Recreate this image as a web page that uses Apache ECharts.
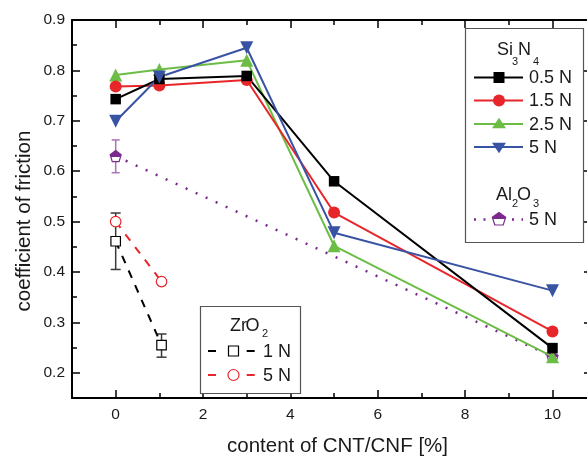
<!DOCTYPE html>
<html><head><meta charset="utf-8">
<script src="https://cdn.jsdelivr.net/npm/echarts@6/dist/echarts.min.js"></script>
<style>html,body{margin:0;padding:0;background:#fff}#c{width:587px;height:462px}</style>
</head><body><div id="c"></div>
<script>
// ---- data ----
const si3n4X = [0, 1, 3, 5, 10];
const si05 = [0.743, 0.783, 0.789, 0.580, 0.249];
const si15 = [0.768, 0.770, 0.781, 0.518, 0.282];
const si25 = [0.791, 0.802, 0.820, 0.452, 0.232];
const si50 = [0.699, 0.787, 0.845, 0.478, 0.363];
const al2o3X = [0, 10];
const al50 = [0.630, 0.232];
const al50Err = [[0, 0.597, 0.662]];
const zrX = [0, 1.05];
const zr1 = [0.461, 0.255];
const zr1Err = [[0, 0.405, 0.517], [1.05, 0.231, 0.277]];
const zr5 = [0.500, 0.381];
const xMajor = [0, 2, 4, 6, 8, 10];
const xMinor = [1, 3, 5, 7, 9];
const yMajor = [0.2, 0.3, 0.4, 0.5, 0.6, 0.7, 0.8, 0.9];
const yMinor = [0.25, 0.35, 0.45, 0.55, 0.65, 0.75, 0.85];
const yRightTicks = [0.2, 0.3, 0.4, 0.5, 0.6, 0.7, 0.8];

const C = {black:'#000000', red:'#e8262a', green:'#6cbd45', blue:'#3953a4', purple:'#7a2a8c', purpleLight:'#a873b8'};
const pentagon = 'path://M0,-1 L0.951,-0.309 L0.588,0.809 L-0.588,0.809 L-0.951,-0.309 Z';
const halfFill = {type:'linear', x:0, y:0, x2:0, y2:1, colorStops:[{offset:0,color:C.purple},{offset:0.55,color:C.purple},{offset:0.55,color:'#fff'},{offset:1,color:'#fff'}]};

const zip = (xs, ys) => xs.map((x, i) => [x, ys[i]]);
const FONT = '"Liberation Sans", Arial, Helvetica, sans-serif';
// visible x range: axis continues past the right edge of the picture
const X_MIN = -1, X_MAX = 10.79;

function axisX(pos, major) {
  return {type:'value', min:X_MIN, max:X_MAX, position:pos,
    axisLine:{show:major, onZero:false, lineStyle:{color:'#000', width:2}},
    axisTick:{show:true, inside:true, length:major?8:5, customValues:major?xMajor:xMinor, lineStyle:{color:'#000', width:1.5}},
    axisLabel:{show:major && pos==='bottom', customValues:xMajor, fontSize:15.5, margin:9, color:'#1a1a1a', fontFamily:FONT},
    splitLine:{show:false},
    name:(major && pos==='bottom') ? 'content of CNT/CNF [%]' : '',
    nameLocation:'middle', nameGap:38,
    nameTextStyle:{fontSize:20.5, color:'#1a1a1a', fontFamily:FONT, padding:[0,0,0,16]}};
}
function axisY(pos, major) {
  const right = pos === 'right';
  return {type:'value', min:0.15, max:0.9, position:pos,
    axisLine:{show:major && !right, onZero:false, lineStyle:{color:'#000', width:2}},
    axisTick:{show:!(right && !major), inside:true, length:right?3:(major?8:5), customValues:right?yRightTicks:(major?yMajor:yMinor), lineStyle:{color:'#000', width:1.5}},
    axisLabel:{show:major && pos==='left', customValues:yMajor, fontSize:15.5, margin:7, color:'#1a1a1a', fontFamily:FONT,
      formatter:v=>v.toFixed(1)},
    splitLine:{show:false}};
}

function errSeries(data, color, capW) {
  return {type:'custom', xAxisIndex:0, yAxisIndex:0, z:1, data:data,
    renderItem:(params, api) => {
      const x = api.value(0);
      const lo = api.coord([x, api.value(1)]);
      const hi = api.coord([x, api.value(2)]);
      const st = {stroke:color, lineWidth:1.5};
      return {type:'group', children:[
        {type:'line', shape:{x1:lo[0], y1:lo[1], x2:hi[0], y2:hi[1]}, style:st},
        {type:'line', shape:{x1:lo[0]-capW/2, y1:lo[1], x2:lo[0]+capW/2, y2:lo[1]}, style:st},
        {type:'line', shape:{x1:hi[0]-capW/2, y1:hi[1], x2:hi[0]+capW/2, y2:hi[1]}, style:st}
      ]};
    }};
}
function lineSeries(data, color, symbol, size, extra) {
  return Object.assign({type:'line', xAxisIndex:0, yAxisIndex:0, data:data, symbol:symbol, symbolSize:size,
    showAllSymbol:true, animation:false, z:3, clip:false,
    lineStyle:{color:color, width:2}, itemStyle:{color:color, borderWidth:0}}, extra||{});
}

// ---- legend graphics ----
const TXT = {fill:'#1a1a1a', font:'18px ' + FONT};
const SUB = {fill:'#1a1a1a', font:'11px ' + FONT};
function t(x, y, s, st) { return {type:'text', x:x, y:y, z:12, style:Object.assign({text:s, textVerticalAlign:'middle'}, st)}; }
function tri(cx, cy, r, down) {
  const h = r; return down ? [[cx-r, cy-h*0.6],[cx+r, cy-h*0.6],[cx, cy+h*0.9]] : [[cx-r, cy+h*0.6],[cx+r, cy+h*0.6],[cx, cy-h*0.9]];
}
const g = [];
// y axis title
g.push({type:'text', x:24, y:221, rotation:Math.PI/2, z:5,
  style:{text:'coefficient of friction', fill:'#1a1a1a', font:'20.5px ' + FONT, textAlign:'center', textVerticalAlign:'middle'}});
// Si3N4 box
g.push({type:'rect', shape:{x:465.5, y:28.5, width:118, height:214}, style:{fill:'#fff', stroke:'#555', lineWidth:1.2}, z:10});
g.push(t(497, 50, 'Si', TXT), t(512, 62, '3', SUB), t(518, 50, 'N', TXT), t(533, 62, '4', SUB));
const rows = [[77.5, C.black, '0.5 N', 'sq'], [100.5, C.red, '1.5 N', 'ci'], [124, C.green, '2.5 N', 'up'], [147, C.blue, '5 N', 'dn']];
rows.forEach(([y, col, lab, sh]) => {
  g.push({type:'line', shape:{x1:474, y1:y, x2:523, y2:y}, style:{stroke:col, lineWidth:2}, z:11});
  if (sh==='sq') g.push({type:'rect', shape:{x:493.5, y:y-5.5, width:11, height:11}, style:{fill:col}, z:12});
  if (sh==='ci') g.push({type:'circle', shape:{cx:499, cy:y, r:6}, style:{fill:col}, z:12});
  if (sh==='up') g.push({type:'polygon', shape:{points:tri(499, y, 7, false)}, style:{fill:col}, z:12});
  if (sh==='dn') g.push({type:'polygon', shape:{points:tri(499, y, 7, true)}, style:{fill:col}, z:12});
  g.push(t(529, y+1, lab, TXT));
});
g.push(t(496, 195, 'Al', TXT), t(512, 204, '2', SUB), t(517, 195, 'O', TXT), t(533, 204, '3', SUB));
g.push({type:'line', shape:{x1:474, y1:219.5, x2:523, y2:219.5}, style:{stroke:C.purple, lineWidth:2.5, lineDash:[2,7.5]}, z:11});
g.push({type:'polygon', shape:{points:[[499,212.5],[505.7,217.3],[503.2,225],[494.8,225],[492.3,217.3]]}, style:{fill:halfFill, stroke:C.purple, lineWidth:1.2}, z:12});
g.push(t(529, 220, '5 N', TXT));
// ZrO2 box
g.push({type:'rect', shape:{x:200.5, y:306.5, width:100, height:87}, style:{fill:'#fff', stroke:'#555', lineWidth:1.2}, z:10});
g.push(t(230, 326, 'Zr', TXT), t(245.5, 326, 'O', TXT), t(262, 334, '2', SUB));
g.push({type:'line', shape:{x1:208, y1:351, x2:255, y2:351}, style:{stroke:C.black, lineWidth:2, lineDash:[8,30.7]}, z:11});
g.push({type:'rect', shape:{x:228.5, y:346, width:10, height:10}, style:{fill:'#fff', stroke:C.black, lineWidth:1.2}, z:12});
g.push(t(263, 352, '1 N', TXT));
g.push({type:'line', shape:{x1:208, y1:375, x2:255, y2:375}, style:{stroke:C.red, lineWidth:2, lineDash:[8,30.7]}, z:11});
g.push({type:'circle', shape:{cx:233.5, cy:375, r:5.5}, style:{fill:'#fff', stroke:C.red, lineWidth:1.2}, z:12});
g.push(t(263, 376, '5 N', TXT));

const chart = echarts.init(document.getElementById('c'), null, {renderer:'canvas'});
chart.setOption({
  animation:false,
  backgroundColor:'#fff',
  textStyle:{fontFamily:FONT},
  grid:{left:72, top:20, right:0, height:386, containLabel:false},
  xAxis:[axisX('bottom', true), axisX('bottom', false), axisX('top', true), axisX('top', false)],
  yAxis:[axisY('left', true), axisY('left', false), axisY('right', true), axisY('right', false)],
  series:[
    errSeries(al50Err, C.purpleLight, 8),
    errSeries(zr1Err, '#3a3a3a', 10),
    lineSeries(zip(al2o3X, al50), C.purple, pentagon, 11, {lineStyle:{color:C.purple, width:2.5, type:[2,9]}, itemStyle:{color:halfFill, borderColor:C.purple, borderWidth:1.2}, z:2}),
    lineSeries(zip(si3n4X, si25), C.green, 'triangle', 13),
    lineSeries(zip(si3n4X, si15), C.red, 'circle', 12),
    lineSeries(zip(si3n4X, si05), C.black, 'rect', 10.5),
    lineSeries(zip(si3n4X, si50), C.blue, 'path://M-1,-0.6 L1,-0.6 L0,0.9 Z', 13),
    lineSeries(zip(zrX, zr1), C.black, 'rect', 9.5, {lineStyle:{color:C.black, width:2, type:[8,8]}, itemStyle:{color:'#fff', borderColor:C.black, borderWidth:1.2}}),
    lineSeries(zip(zrX, zr5), C.red, 'circle', 10.5, {lineStyle:{color:C.red, width:2, type:[8,8]}, itemStyle:{color:'#fff', borderColor:C.red, borderWidth:1.2}})
  ],
  graphic:g
});
</script></body></html>
